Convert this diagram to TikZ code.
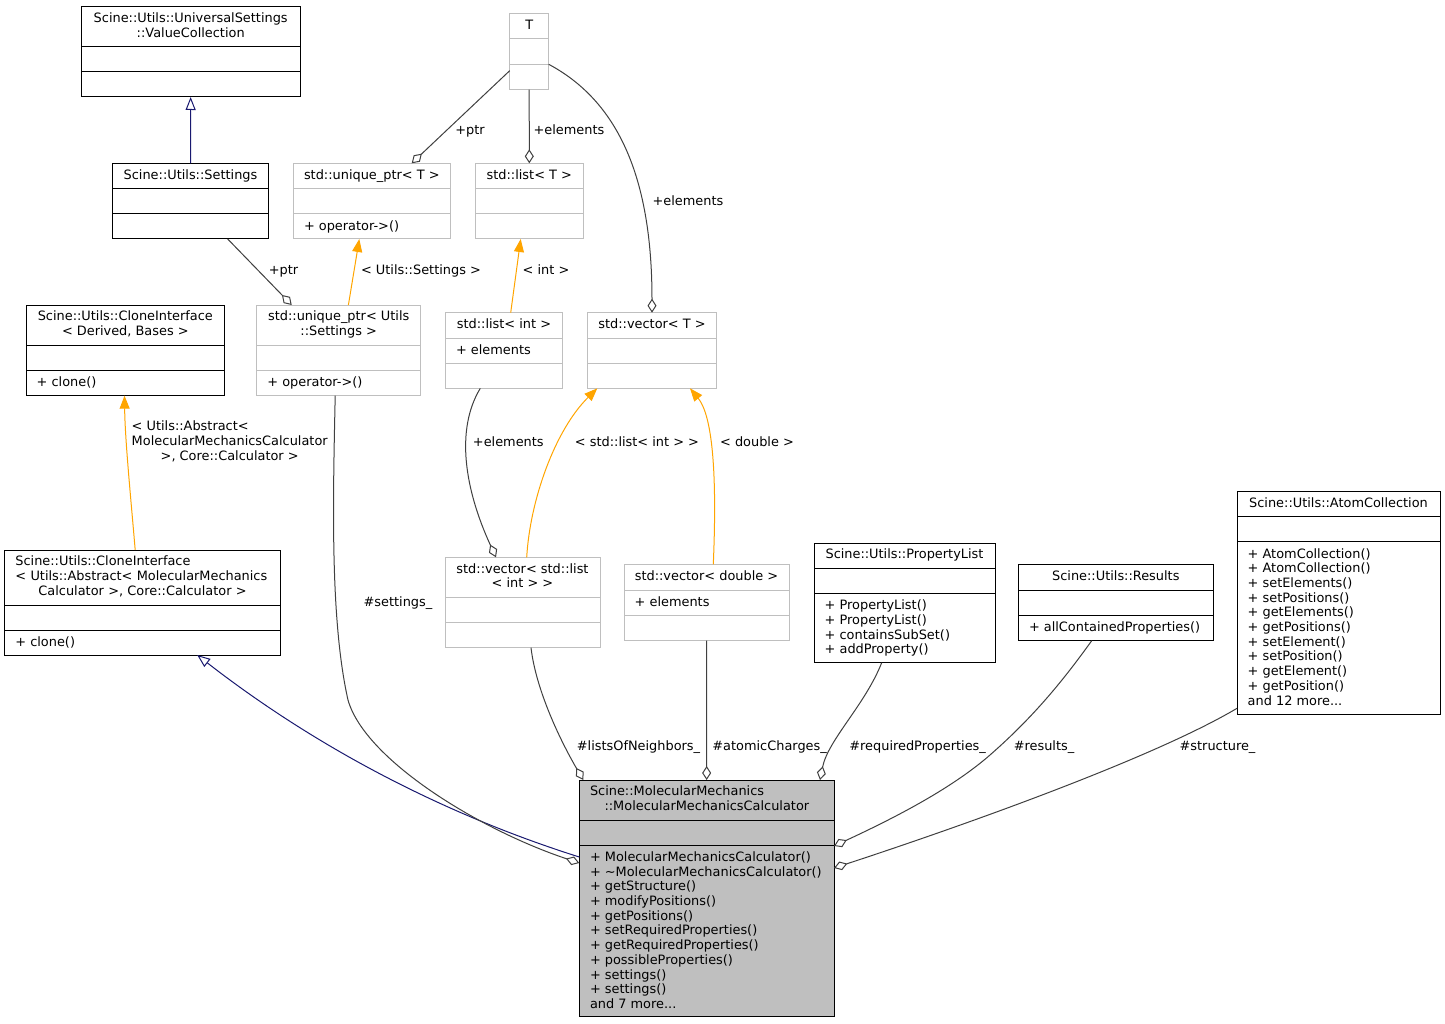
\documentclass[tikz,border=0pt]{standalone}
\usepackage{fontspec}
\setmainfont{DejaVu Sans}
\usetikzlibrary{arrows.meta,calc}
\definecolor{edgegray}{HTML}{404040}
\definecolor{boxgray}{HTML}{BFBFBF}
\definecolor{tplorange}{HTML}{FFA500}
\definecolor{inhnavy}{HTML}{191970}
% #1 style, #2 name, #3 x1, #4 y1, #5 x2, #6 y2, #7 sep1, #8 sep2
\newcommand\umlbox[8]{%
  \node[#1, anchor=north west, minimum width={#5-#3}, minimum height={#6-#4}] (#2) at (#3,#4) {};
  \draw[#1sep] (#3,#7) -- (#5,#7) (#3,#8) -- (#5,#8);
}
\tikzset{
  bbox/.style={draw=black, line width=1pt, inner sep=0pt, outer sep=0pt},
  bboxsep/.style={draw=black, line width=1pt},
  gbox/.style={draw=boxgray, line width=1pt, inner sep=0pt, outer sep=0pt},
  gboxsep/.style={draw=boxgray, line width=1pt},
  mbox/.style={draw=black, fill=boxgray, line width=1pt, inner sep=0pt, outer sep=0pt},
  mboxsep/.style={draw=black, line width=1pt},
  txt/.style={font=\fontsize{12.9}{14.7}\selectfont, inner sep=0pt, text=black},
  ttl/.style={txt, align=center, anchor=north},
  mem/.style={txt, align=left, anchor=north west},
  lbl/.style={txt, anchor=base},
  agg/.style={draw=edgegray, line width=1pt, -{Diamond[length=14pt, width=9pt, fill=white]}},
  inh/.style={draw=inhnavy, line width=1pt, -{Triangle[length=13pt, width=10pt, fill=white]}},
  tpl/.style={draw=tplorange, line width=1pt, -{Triangle[length=13pt, width=10pt, fill=tplorange]}},
}
\begin{document}
\begin{tikzpicture}[x=1pt, y=-1pt]
\useasboundingbox (0,0) rectangle (1445,1024);
\fill[white] (0,0) rectangle (1445,1024);
% boxes
\umlbox{bbox}{vc}{81.3}{6.7}{300}{97}{46.7}{71.7}
\umlbox{bbox}{settings}{112.7}{163.3}{268.3}{239}{188.7}{213.7}
\umlbox{gbox}{uniqT}{293.3}{163.3}{450.3}{239}{188.7}{213.7}
\umlbox{gbox}{listT}{475.3}{163.3}{583.3}{239}{188.7}{213.7}
\umlbox{gbox}{T}{509.7}{13.7}{548.7}{89.7}{39}{64.3}
\umlbox{bbox}{cloneDB}{26}{305}{224.7}{395.7}{345}{370.3}
\umlbox{gbox}{uniqS}{256.7}{305}{420.7}{395.7}{345}{370.3}
\umlbox{gbox}{listInt}{445.3}{312.7}{562.7}{388.3}{338}{363}
\umlbox{gbox}{vecT}{587.3}{312.7}{716.7}{388.3}{338}{363}
\umlbox{bbox}{cloneAbs}{4.7}{550}{280}{655}{605}{630}
\umlbox{gbox}{vecList}{445}{557.3}{600}{647.7}{597.3}{622.3}
\umlbox{gbox}{vecDouble}{624}{564.3}{789}{640.7}{590}{615}
\umlbox{bbox}{propList}{814}{543}{995}{662.7}{568.3}{593.3}
\umlbox{bbox}{results}{1018.3}{564.3}{1213.3}{640.7}{590}{615.3}
\umlbox{bbox}{atoms}{1237}{491.7}{1440}{714}{516.7}{541.7}
\umlbox{mbox}{main}{579.3}{780}{834}{1016.7}{820}{845}
% edges
\draw[inh] (settings.north) -- (vc.south);
\draw[agg] ($(settings.south west)+(115,0)$) -- ($(uniqS.north west)+(35,0)$);
\draw[agg] ($(T.north west)+(0,57)$) -- ($(uniqT.north west)+(118.4,0)$);
\draw[agg] (T.south) -- (listT.north);
\draw[agg] ($(T.north east)+(0,50.6)$) .. controls (625,105) and (652,190) .. (vecT.north);
\draw[tpl] ($(uniqS.north west)+(91.7,0)$) -- ($(uniqT.south west)+(66,0)$);
\draw[tpl] ($(listInt.north west)+(65.4,0)$) -- ($(listT.south west)+(45.4,0)$);
\draw[agg] ($(listInt.south west)+(35,0)$) .. controls (455,430) and (465,490) .. ($(vecList.north west)+(51,0)$);
\draw[tpl] ($(vecList.north west)+(81.7,0)$) .. controls (530,500) and (555,430) .. ($(vecT.south west)+(10,0)$);
\draw[tpl] ($(vecDouble.north west)+(89.3,0)$) .. controls (716,500) and (716,420) .. ($(vecT.south west)+(102.7,0)$);
\draw[tpl] ($(cloneAbs.north west)+(130.5,0)$) .. controls (131,500) and (125,440) .. ($(cloneDB.south west)+(98.5,0)$);
\draw[inh] ($(main.north west)+(0,77)$) .. controls (440,813) and (313,745) .. ($(cloneAbs.south west)+(192.5,0)$);
\draw[agg] ($(uniqS.south west)+(78.5,0)$) .. controls (333,500) and (330,620) .. (348,700) .. controls (365,760) and (480,830) .. ($(main.north west)+(0,83)$);
\draw[agg] ($(vecList.south west)+(86,0)$) .. controls (536,690) and (560,740) .. ($(main.north west)+(4,0)$);
\draw[agg] (vecDouble.south) -- (main.north);
\draw[agg] ($(propList.south west)+(67.7,0)$) .. controls (865,705) and (828,740) .. ($(main.north east)+(-14,0)$);
\draw[agg] ($(results.south west)+(73.4,0)$) .. controls (1060,685) and (1030,720) .. (990,755) .. controls (950,790) and (890,820) .. ($(main.north east)+(0,66)$);
\draw[agg] ($(atoms.north west)+(0,216.6)$) .. controls (1150,760) and (950,830) .. ($(main.north east)+(0,88)$);
% edge labels
\node[lbl] (l1) at (283.5,275) {+ptr};
\node[lbl] (l2) at (421,275) {< Utils::Settings >};
\node[lbl] (l3) at (470,134.2) {+ptr};
\node[lbl] (l4) at (569,134.2) {+elements};
\node[lbl] (l5) at (688,205.4) {+elements};
\node[lbl] (l6) at (546,275) {< int >};
\node[lbl] (l7) at (508.3,446.7) {+elements};
\node[lbl] (l8) at (637,446.7) {< std::list< int > >};
\node[lbl] (l9) at (757,446.7) {< double >};
\node[txt] (l10) at (229.7,442.7) {\begin{tabular}{@{}l@{}}< Utils::Abstract<\\MolecularMechanicsCalculator\\\multicolumn{1}{@{}c@{}}{>, Core::Calculator >}\end{tabular}};
\node[lbl] (l11) at (398,606.2) {\#settings\_};
\node[lbl] (l12) at (638.5,750.2) {\#listsOfNeighbors\_};
\node[lbl] (l13) at (769.6,750.2) {\#atomicCharges\_};
\node[lbl] (l14) at (917.6,750.2) {\#requiredProperties\_};
\node[lbl] (l15) at (1044,750.2) {\#results\_};
\node[lbl] (l16) at (1217.5,750.2) {\#structure\_};
% box texts
\node[ttl] (vcT) at (190.7,12.1) {\strut Scine::Utils::UniversalSettings\\::ValueCollection};
\node[ttl] (settingsT) at (190.5,168.7) {\strut Scine::Utils::Settings};
\node[ttl] (uniqTT) at (371.8,168.7) {\strut std::unique\_ptr< T >};
\node[mem] (uniqTM) at (303.8,219.6) {\strut + operator->()};
\node[ttl] (listTT) at (529.3,168.7) {\strut std::list< T >};
\node[ttl] (TT) at (529.2,19.1) {\strut T};
\node[ttl] (cloneDBT) at (125.35,310.4) {\strut Scine::Utils::CloneInterface\\< Derived, Bases >};
\node[mem] (cloneDBM) at (36.5,376.2) {\strut + clone()};
\node[ttl] (uniqST) at (338.7,310.4) {\strut std::unique\_ptr< Utils\\::Settings >};
\node[mem] (uniqSM) at (267.2,376.2) {\strut + operator->()};
\node[ttl] (listIntT) at (504,318.1) {\strut std::list< int >};
\node[mem] (listIntM) at (455.8,343.9) {\strut + elements};
\node[ttl] (vecTT) at (652,318.1) {\strut std::vector< T >};
\node[mem, text width=262pt] (cloneAbsT) at (15.2,555.4) {\strut Scine::Utils::CloneInterface\\< Utils::Abstract< MolecularMechanics\\\makebox[254.3pt]{Calculator >, Core::Calculator >}};
\node[mem] (cloneAbsM) at (15.2,635.9) {\strut + clone()};
\node[ttl] (vecListT) at (522.5,562.7) {\strut std::vector< std::list\\< int > >};
\node[ttl] (vecDoubleT) at (706.5,569.7) {\strut std::vector< double >};
\node[mem] (vecDoubleM) at (634.5,595.9) {\strut + elements};
\node[ttl] (propListT) at (904.5,548.4) {\strut Scine::Utils::PropertyList};
\node[mem] (propListM) at (824.5,599.2) {\strut + PropertyList()\\+ PropertyList()\\+ containsSubSet()\\+ addProperty()};
\node[ttl] (resultsT) at (1115.8,569.7) {\strut Scine::Utils::Results};
\node[mem] (resultsM) at (1028.8,621.2) {\strut + allContainedProperties()};
\node[ttl] (atomsT) at (1338.5,497.1) {\strut Scine::Utils::AtomCollection};
\node[mem] (atomsM) at (1247.5,547.6) {\strut + AtomCollection()\\+ AtomCollection()\\+ setElements()\\+ setPositions()\\+ getElements()\\+ getPositions()\\+ setElement()\\+ setPosition()\\+ getElement()\\+ getPosition()\\and 12 more...};
\node[mem, text width=240pt] (mainT) at (589.8,785.4) {\strut Scine::MolecularMechanics\\\makebox[233.7pt]{::MolecularMechanicsCalculator}};
\node[mem] (mainM) at (589.8,850.9) {\strut + MolecularMechanicsCalculator()\\+ \textasciitilde MolecularMechanicsCalculator()\\+ getStructure()\\+ modifyPositions()\\+ getPositions()\\+ setRequiredProperties()\\+ getRequiredProperties()\\+ possibleProperties()\\+ settings()\\+ settings()\\and 7 more...};
\end{tikzpicture}
\end{document}
